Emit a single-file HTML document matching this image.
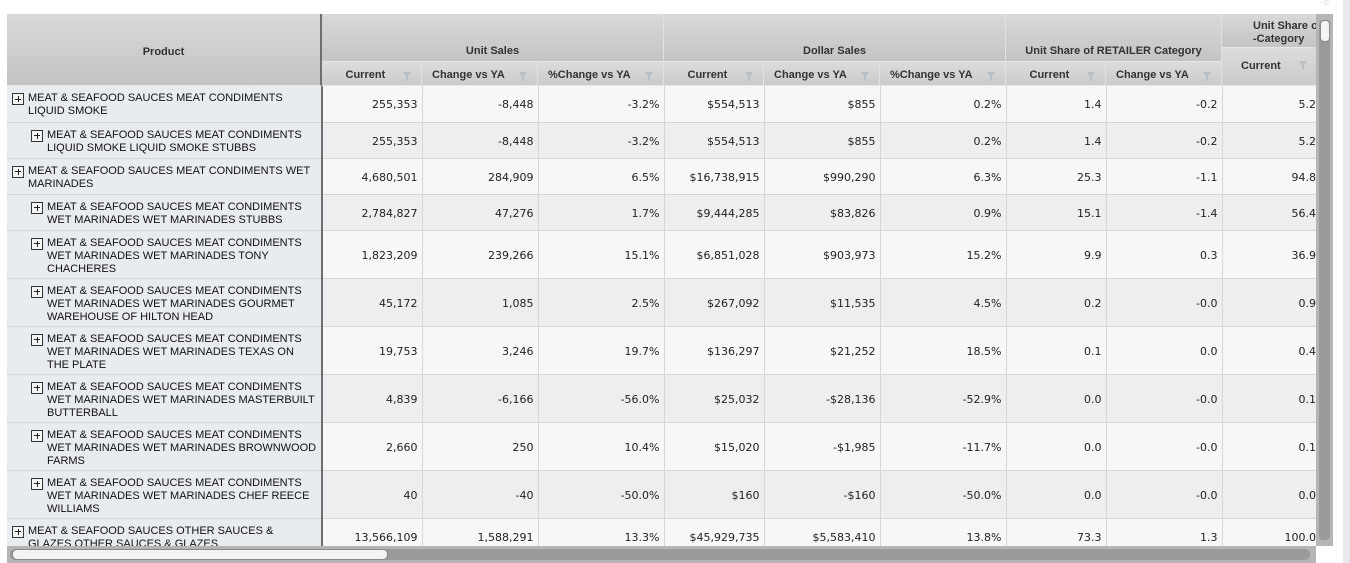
<!DOCTYPE html>
<html><head><meta charset="utf-8"><style>
body{margin:0;width:1350px;height:563px;background:#fff;position:relative;overflow:hidden;font-family:"Liberation Sans",Arial,sans-serif;}
.h{position:absolute;box-sizing:border-box;background:linear-gradient(#d9d9d9,#c4c4c4);font-weight:bold;font-size:11px;color:#333;display:flex;align-items:center;justify-content:center;text-align:center;border-right:1px solid #e2e2e2;border-bottom:1px solid #e6e6e6;line-height:13px}
.s{background:linear-gradient(#dcdcdc,#cbcbcb);padding-top:4px}
.f{position:absolute;right:10px;top:50%;margin-top:-2px;width:0;height:0;border-left:4px solid transparent;border-right:4px solid transparent;border-top:6px solid #b8c0c8}
.f::after{content:"";position:absolute;left:-1px;top:-1px;width:2px;height:4px;background:#b8c0c8}
#wrap{position:absolute;left:7px;top:86px;width:1309px;height:460px;overflow:hidden}
table{border-collapse:collapse;table-layout:fixed;width:1403px}
td{box-sizing:border-box;padding:2px 4px 0 0;border-right:1px solid #d6d6d6;border-bottom:1px solid #d6d6d6;font-family:"DejaVu Sans",Verdana,sans-serif;font-size:11px;color:#222;text-align:right;vertical-align:middle}
td.p{background:#e8ebf0;border-right:2px solid #6e6e6e;text-align:left;vertical-align:top;font-family:"Liberation Sans",Arial,sans-serif;padding:6px 4px 0 21px;line-height:13px;color:#111;position:relative}
td.p.l2{padding-left:40px}
td.p i{position:absolute;left:5px;top:7px;width:10px;height:10px;border:1px solid #333;background:#f4f4f4}
td.p.l2 i{left:24px}
td.p i::before{content:"";position:absolute;left:2px;top:4.5px;width:6px;height:1px;background:#222}
td.p i::after{content:"";position:absolute;top:2px;left:4.5px;height:6px;width:1px;background:#222}
tr.a td{background:#f7f7f7}tr.b td{background:#eeeef0}
tr td.p{background:#e8ebf0}
</style></head><body>
<div class="h" style="left:7px;top:14px;width:315px;height:72px;border-right:2px solid #6e6e6e;padding-top:6px">Product</div>
<div class="h" style="left:322px;top:14px;width:342px;height:48px;padding-top:28px">Unit Sales</div>
<div class="h" style="left:664px;top:14px;width:342px;height:48px;padding-top:28px">Dollar Sales</div>
<div class="h" style="left:1006px;top:14px;width:216px;height:48px;padding-top:28px">Unit Share of RETAILER Category</div>
<div class="h" style="left:1222px;top:14px;width:100px;height:34px;justify-content:flex-start;padding-left:31px;padding-top:4px;text-align:left;white-space:nowrap">Unit Share of<br>-Category</div>
<div class="h s" style="left:322px;top:62px;width:100px;height:24px">Current&nbsp;&nbsp;&nbsp;&nbsp;<span class="f"></span></div>
<div class="h s" style="left:422px;top:62px;width:116px;height:24px;justify-content:flex-start;padding-left:10px">Change vs YA<span class="f"></span></div>
<div class="h s" style="left:538px;top:62px;width:126px;height:24px;justify-content:flex-start;padding-left:10px">%Change vs YA<span class="f"></span></div>
<div class="h s" style="left:664px;top:62px;width:100px;height:24px">Current&nbsp;&nbsp;&nbsp;&nbsp;<span class="f"></span></div>
<div class="h s" style="left:764px;top:62px;width:116px;height:24px;justify-content:flex-start;padding-left:10px">Change vs YA<span class="f"></span></div>
<div class="h s" style="left:880px;top:62px;width:126px;height:24px;justify-content:flex-start;padding-left:10px">%Change vs YA<span class="f"></span></div>
<div class="h s" style="left:1006px;top:62px;width:100px;height:24px">Current&nbsp;&nbsp;&nbsp;&nbsp;<span class="f"></span></div>
<div class="h s" style="left:1106px;top:62px;width:116px;height:24px;justify-content:flex-start;padding-left:10px">Change vs YA<span class="f"></span></div>
<div class="h s" style="left:1222px;top:48px;width:100px;height:38px;justify-content:flex-start;padding-left:19px;padding-top:0">Current<span class="f" style="right:14px;margin-top:-6px"></span></div>
<div id="wrap"><table>
<colgroup><col style="width:315px"><col style="width:100px"><col style="width:116px"><col style="width:126px"><col style="width:100px"><col style="width:116px"><col style="width:126px"><col style="width:100px"><col style="width:116px"><col style="width:188px"></colgroup>
<tr class="a" style="height:36px"><td class="p"><i></i>MEAT &amp; SEAFOOD SAUCES MEAT CONDIMENTS LIQUID SMOKE</td><td>255,353</td><td>-8,448</td><td>-3.2%</td><td>$554,513</td><td>$855</td><td>0.2%</td><td>1.4</td><td>-0.2</td><td style="text-align:left;padding-left:76px">5.2</td></tr>
<tr class="b" style="height:36px"><td class="p l2"><i></i>MEAT &amp; SEAFOOD SAUCES MEAT CONDIMENTS LIQUID SMOKE LIQUID SMOKE STUBBS</td><td>255,353</td><td>-8,448</td><td>-3.2%</td><td>$554,513</td><td>$855</td><td>0.2%</td><td>1.4</td><td>-0.2</td><td style="text-align:left;padding-left:76px">5.2</td></tr>
<tr class="a" style="height:36px"><td class="p"><i></i>MEAT &amp; SEAFOOD SAUCES MEAT CONDIMENTS WET MARINADES</td><td>4,680,501</td><td>284,909</td><td>6.5%</td><td>$16,738,915</td><td>$990,290</td><td>6.3%</td><td>25.3</td><td>-1.1</td><td style="text-align:left;padding-left:69px">94.8</td></tr>
<tr class="b" style="height:36px"><td class="p l2"><i></i>MEAT &amp; SEAFOOD SAUCES MEAT CONDIMENTS WET MARINADES WET MARINADES STUBBS</td><td>2,784,827</td><td>47,276</td><td>1.7%</td><td>$9,444,285</td><td>$83,826</td><td>0.9%</td><td>15.1</td><td>-1.4</td><td style="text-align:left;padding-left:69px">56.4</td></tr>
<tr class="a" style="height:48px"><td class="p l2"><i></i>MEAT &amp; SEAFOOD SAUCES MEAT CONDIMENTS WET MARINADES WET MARINADES TONY CHACHERES</td><td>1,823,209</td><td>239,266</td><td>15.1%</td><td>$6,851,028</td><td>$903,973</td><td>15.2%</td><td>9.9</td><td>0.3</td><td style="text-align:left;padding-left:69px">36.9</td></tr>
<tr class="b" style="height:48px"><td class="p l2"><i></i>MEAT &amp; SEAFOOD SAUCES MEAT CONDIMENTS WET MARINADES WET MARINADES GOURMET WAREHOUSE OF HILTON HEAD</td><td>45,172</td><td>1,085</td><td>2.5%</td><td>$267,092</td><td>$11,535</td><td>4.5%</td><td>0.2</td><td>-0.0</td><td style="text-align:left;padding-left:76px">0.9</td></tr>
<tr class="a" style="height:48px"><td class="p l2"><i></i>MEAT &amp; SEAFOOD SAUCES MEAT CONDIMENTS WET MARINADES WET MARINADES TEXAS ON THE PLATE</td><td>19,753</td><td>3,246</td><td>19.7%</td><td>$136,297</td><td>$21,252</td><td>18.5%</td><td>0.1</td><td>0.0</td><td style="text-align:left;padding-left:76px">0.4</td></tr>
<tr class="b" style="height:48px"><td class="p l2"><i></i>MEAT &amp; SEAFOOD SAUCES MEAT CONDIMENTS WET MARINADES WET MARINADES MASTERBUILT BUTTERBALL</td><td>4,839</td><td>-6,166</td><td>-56.0%</td><td>$25,032</td><td>-$28,136</td><td>-52.9%</td><td>0.0</td><td>-0.0</td><td style="text-align:left;padding-left:76px">0.1</td></tr>
<tr class="a" style="height:48px"><td class="p l2"><i></i>MEAT &amp; SEAFOOD SAUCES MEAT CONDIMENTS WET MARINADES WET MARINADES BROWNWOOD FARMS</td><td>2,660</td><td>250</td><td>10.4%</td><td>$15,020</td><td>-$1,985</td><td>-11.7%</td><td>0.0</td><td>-0.0</td><td style="text-align:left;padding-left:76px">0.1</td></tr>
<tr class="b" style="height:48px"><td class="p l2"><i></i>MEAT &amp; SEAFOOD SAUCES MEAT CONDIMENTS WET MARINADES WET MARINADES CHEF REECE WILLIAMS</td><td>40</td><td>-40</td><td>-50.0%</td><td>$160</td><td>-$160</td><td>-50.0%</td><td>0.0</td><td>-0.0</td><td style="text-align:left;padding-left:76px">0.0</td></tr>
<tr class="a" style="height:36px"><td class="p"><i></i>MEAT &amp; SEAFOOD SAUCES OTHER SAUCES &amp; GLAZES OTHER SAUCES &amp; GLAZES</td><td>13,566,109</td><td>1,588,291</td><td>13.3%</td><td>$45,929,735</td><td>$5,583,410</td><td>13.8%</td><td>73.3</td><td>1.3</td><td style="text-align:left;padding-left:62px">100.0</td></tr>
</table></div>
<div style="position:absolute;left:1316px;top:14px;width:17px;height:532px;background:#b5b5b5"></div>
<div style="position:absolute;left:1319px;top:20px;width:11px;height:520px;background:#9a9a9a;border-radius:4px"></div>
<div style="position:absolute;left:1320px;top:20px;width:8px;height:20px;background:#f4f4f4;border:1px solid #888;border-radius:4px"></div>
<div style="position:absolute;left:7px;top:546px;width:1309px;height:17px;background:#b5b5b5"></div>
<div style="position:absolute;left:10px;top:549px;width:1300px;height:11px;background:#9a9a9a;border-radius:5px"></div>
<div style="position:absolute;left:12px;top:549px;width:374px;height:9px;background:#f4f4f4;border:1px solid #888;border-radius:5px"></div>
<div style="position:absolute;left:1343px;top:0;width:7px;height:563px;background:#e8eaee"></div>
<div style="position:absolute;left:1322px;top:0;font-size:10px;color:#aaa;line-height:8px">⁘</div>
</body></html>
